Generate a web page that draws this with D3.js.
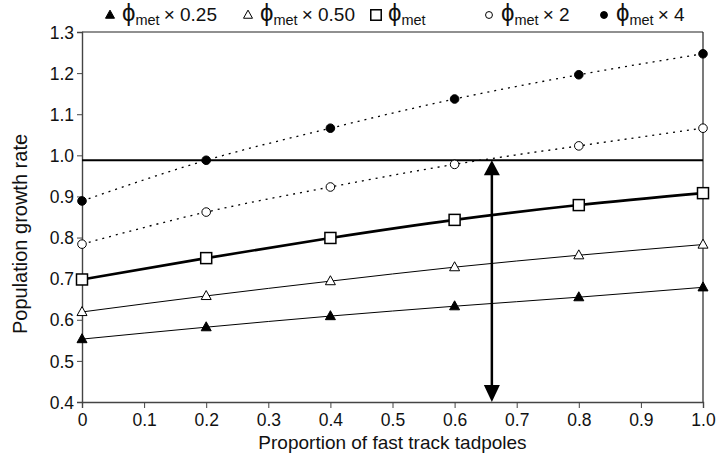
<!DOCTYPE html>
<html><head><meta charset="utf-8">
<script src="https://cdn.jsdelivr.net/npm/d3@7"></script>
<style>body{margin:0;background:#fff}svg{display:block;font-family:"Liberation Sans",Arial,sans-serif}</style>
</head><body>
<svg id="c" width="721" height="461"></svg>
<script>
const proportions = [0, 0.2, 0.4, 0.6, 0.8, 1.0];
const phi025 = [0.553, 0.582, 0.609, 0.633, 0.655, 0.679];
const phi050 = [0.619, 0.658, 0.694, 0.728, 0.757, 0.783];
const phi100 = [0.698, 0.750, 0.799, 0.843, 0.879, 0.908];
const phi200 = [0.784, 0.862, 0.923, 0.978, 1.023, 1.066];
const phi400 = [0.889, 0.988, 1.066, 1.137, 1.196, 1.247];
const thresholdRate = 0.988;
const crossProportion = 0.66;
const xTicks = [0,0.1,0.2,0.3,0.4,0.5,0.6,0.7,0.8,0.9,1.0];
const yTicks = [0.4,0.5,0.6,0.7,0.8,0.9,1.0,1.1,1.2,1.3];
const legendLabels = ["× 0.25","× 0.50","","× 2","× 4"];

const svg = d3.select("#c");
const x = d3.scaleLinear().domain([0,1]).range([82,703]);
const y = d3.scaleLinear().domain([0.4,1.3]).range([402,32]);

svg.append("line").attr("x1",x(0)).attr("x2",x(1)).attr("y1",y(1.3)).attr("y2",y(1.3)).attr("stroke","#222").attr("stroke-width",1.2);
svg.append("line").attr("x1",x(1)).attr("x2",x(1)).attr("y1",y(1.3)).attr("y2",y(0.4)).attr("stroke","#222").attr("stroke-width",1.2);

const xAxis = svg.append("g").attr("transform",`translate(0,${y(0.4)})`)
  .call(d3.axisBottom(x).tickValues(xTicks).tickSize(6).tickPadding(5).tickFormat(d=>d===0?"0":d3.format(".1f")(d)));
const yAxis = svg.append("g").attr("transform",`translate(${x(0)},0)`)
  .call(d3.axisLeft(y).tickValues(yTicks).tickSize(5).tickPadding(3).tickFormat(d3.format(".1f")));
[xAxis,yAxis].forEach(g=>{
  g.select(".domain").attr("stroke","#444").attr("stroke-width",1.4);
  g.selectAll(".tick line").attr("stroke","#444").attr("stroke-width",1);
  g.selectAll("text").attr("font-family","Liberation Sans, Arial, sans-serif").attr("font-size",17.5).attr("fill","#111");
});
yAxis.selectAll("text").attr("dy","0.35em");
xAxis.selectAll("text").attr("dy","0.75em");

svg.append("text").attr("x",(x(0)+x(1))/2).attr("y",449).attr("text-anchor","middle")
  .attr("font-size",19).attr("fill","#111").text("Proportion of fast track tadpoles");
svg.append("text").attr("transform",`translate(27,${234}) rotate(-90)`).attr("text-anchor","middle")
  .attr("font-size",20).attr("fill","#111").text("Population growth rate");

svg.append("line").attr("x1",x(0)).attr("x2",x(1)).attr("y1",y(thresholdRate)).attr("y2",y(thresholdRate))
  .attr("stroke","#000").attr("stroke-width",2.2);

const series = [
  {vals:phi025, width:1, dash:null, marker:"tri", fill:"#000"},
  {vals:phi050, width:1, dash:null, marker:"tri", fill:"#fff"},
  {vals:phi100, width:2.6, dash:null, marker:"sq", fill:"#fff"},
  {vals:phi200, width:1.3, dash:"2,5", marker:"circ", fill:"#fff"},
  {vals:phi400, width:1.3, dash:"2,5", marker:"circ", fill:"#000"},
];
const line = d3.line().x(d=>x(d[0])).y(d=>y(d[1])).curve(d3.curveMonotoneX);
series.forEach(s=>{
  const pts = proportions.map((p,i)=>[p,s.vals[i]]);
  svg.append("path").attr("d",line(pts)).attr("fill","none").attr("stroke","#000")
    .attr("stroke-width",s.width).attr("stroke-dasharray",s.dash);
});
function drawMarker(g,type,fill,cx,cy,scale){
  scale = scale||1;
  if(type==="tri"){
    const h=9*scale,w=10*scale;
    g.append("path").attr("d",`M${cx},${cy-h*0.6}L${cx+w/2},${cy+h*0.4}L${cx-w/2},${cy+h*0.4}Z`)
      .attr("fill",fill).attr("stroke","#000").attr("stroke-width",1);
  } else if(type==="sq"){
    const s=11*scale;
    g.append("rect").attr("x",cx-s/2).attr("y",cy-s/2).attr("width",s).attr("height",s)
      .attr("fill",fill).attr("stroke","#000").attr("stroke-width",1.5);
  } else {
    g.append("circle").attr("cx",cx).attr("cy",cy).attr("r",4.3*scale)
      .attr("fill",fill).attr("stroke","#000").attr("stroke-width",1);
  }
}
series.forEach(s=>{
  proportions.forEach((p,i)=>drawMarker(svg,s.marker,s.fill,x(p),y(s.vals[i])));
});

const ax = x(crossProportion);
svg.append("line").attr("x1",ax).attr("x2",ax).attr("y1",y(thresholdRate)+12).attr("y2",y(0.4)-14)
  .attr("stroke","#000").attr("stroke-width",2.5);
svg.append("path").attr("d",`M${ax},${y(thresholdRate)}L${ax+8},${y(thresholdRate)+15}L${ax-8},${y(thresholdRate)+15}Z`).attr("fill","#000");
svg.append("path").attr("d",`M${ax},${y(0.4)}L${ax+8},${y(0.4)-17}L${ax-8},${y(0.4)-17}Z`).attr("fill","#000");

const legendX = [110, 248, 376, 489, 604];
const markers = [["tri","#000",0.9],["tri","#fff",0.9],["sq","#fff",0.95],["circ","#fff",0.8],["circ","#000",0.8]];
legendX.forEach((lx,i)=>{
  drawMarker(svg,markers[i][0],markers[i][1],lx,15,markers[i][2]);
  const t = svg.append("text").attr("x",lx+12).attr("y",21).attr("fill","#111").attr("font-size",19);
  t.append("tspan").attr("font-size",24).text("ϕ");
  t.append("tspan").attr("font-size",14.5).attr("dy",4).text("met");
  if(legendLabels[i]) t.append("tspan").attr("dy",-4).attr("dx",4).text(legendLabels[i]);
});
</script>
</body></html>
